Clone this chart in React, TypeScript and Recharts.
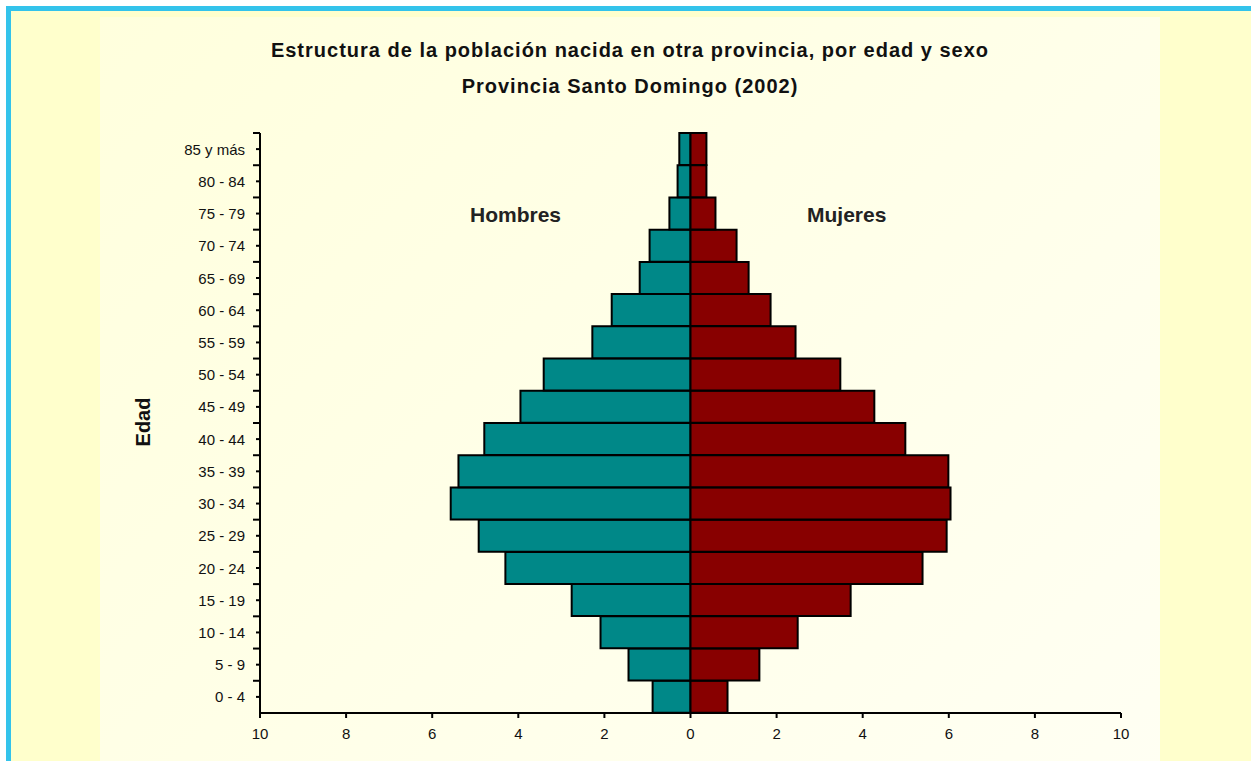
import React from "react";
import { BarChart, Bar, XAxis, YAxis } from "recharts";

// grupos de edad, de abajo hacia arriba
const ageGroups = [
  "0 - 4", "5 - 9", "10 - 14", "15 - 19", "20 - 24", "25 - 29", "30 - 34", "35 - 39", "40 - 44",
  "45 - 49", "50 - 54", "55 - 59", "60 - 64", "65 - 69", "70 - 74", "75 - 79", "80 - 84", "85 y más",
];
// porcentajes
const hombres = [0.88, 1.44, 2.09, 2.76, 4.3, 4.92, 5.57, 5.39, 4.79, 3.95, 3.41, 2.28, 1.83, 1.18, 0.95, 0.49, 0.3, 0.26];
const mujeres = [0.86, 1.6, 2.49, 3.72, 5.39, 5.95, 6.04, 5.99, 4.99, 4.27, 3.48, 2.44, 1.86, 1.35, 1.07, 0.58, 0.37, 0.37];
const xTicks = [-10, -8, -6, -4, -2, 0, 2, 4, 6, 8, 10];

const data = ageGroups.map((g, i) => ({ edad: g, hombres: -hombres[i], mujeres: mujeres[i] }));

const W = 1060;
const H = 744;
const M = { top: 116, right: 39, bottom: 18, left: 0 };
const X_H = 30;
const BAND = (H - M.top - M.bottom - X_H) / ageGroups.length;
const TICK = 4;
const TICK_GAP = 4;
const font = "'Liberation Sans', Arial, sans-serif";

const YTick = (props: any) => {
  const { x, y, payload } = props;
  const ax = x + TICK + TICK_GAP;
  return (
    <g>
      <line x1={ax - 7} x2={ax} y1={y - BAND / 2} y2={y - BAND / 2} stroke="#000" strokeWidth={2} />
      <text x={ax - 15} y={y} textAnchor="end" dominantBaseline="central" fontSize={15} fontFamily={font} fill="#111">
        {payload.value}
      </text>
    </g>
  );
};

export default function App() {
  return (
    <div style={{ position: "absolute", left: 0, top: 0, width: 1251, height: 761, background: "#fff", overflow: "hidden" }}>
      <div style={{ position: "absolute", left: 6, top: 6, right: -10, bottom: -10, borderLeft: "5px solid #33C3EB", borderTop: "5px solid #33C3EB", background: "#FFFFCC" }} />
      <div style={{ position: "absolute", left: 100, top: 17, width: W, height: H + 10, background: "linear-gradient(135deg, #FFFFDD 0%, #FFFFF3 100%)" }} />
      <div style={{ position: "absolute", left: 100, top: 17 }}>
        <BarChart width={W} height={H} data={data} layout="vertical" stackOffset="sign" barCategoryGap={0} margin={M}>
          <XAxis
            type="number"
            domain={[-10, 10]}
            ticks={xTicks}
            tickFormatter={(v: number) => String(Math.abs(v))}
            height={X_H}
            axisLine={{ stroke: "#000", strokeWidth: 2 }}
            tickLine={{ stroke: "#000", strokeWidth: 2 }}
            tickSize={5}
            tickMargin={10}
            tick={{ fontSize: 15, fontFamily: font, fill: "#111" }}
          />
          <YAxis
            type="category"
            dataKey="edad"
            reversed
            width={160}
            axisLine={{ stroke: "#000", strokeWidth: 2 }}
            tickLine={{ stroke: "#000", strokeWidth: 2 }}
            tickSize={TICK}
            tickMargin={TICK_GAP}
            interval={0}
            tick={<YTick />}
          />
          <Bar dataKey="hombres" stackId="p" fill="#008888" stroke="#000" strokeWidth={2} isAnimationActive={false} />
          <Bar dataKey="mujeres" stackId="p" fill="#880000" stroke="#000" strokeWidth={2} isAnimationActive={false} />
        </BarChart>
      </div>
      <div style={{ position: "absolute", left: 100, width: W, top: 32, textAlign: "center", fontFamily: font, fontWeight: "bold", fontSize: 20, letterSpacing: 1, lineHeight: "36px", color: "#111" }}>
        Estructura de la población nacida en otra provincia, por edad y sexo
        <br />
        Provincia Santo Domingo (2002)
      </div>
      <div style={{ position: "absolute", left: 470, top: 203, fontFamily: font, fontWeight: "bold", fontSize: 21, color: "#222" }}>Hombres</div>
      <div style={{ position: "absolute", left: 807, top: 203, fontFamily: font, fontWeight: "bold", fontSize: 21, color: "#222" }}>Mujeres</div>
      <div style={{ position: "absolute", left: 143, top: 422, transform: "translate(-50%, -50%) rotate(-90deg)", fontFamily: font, fontWeight: "bold", fontSize: 20, color: "#111", whiteSpace: "nowrap" }}>
        Edad
      </div>
    </div>
  );
}
